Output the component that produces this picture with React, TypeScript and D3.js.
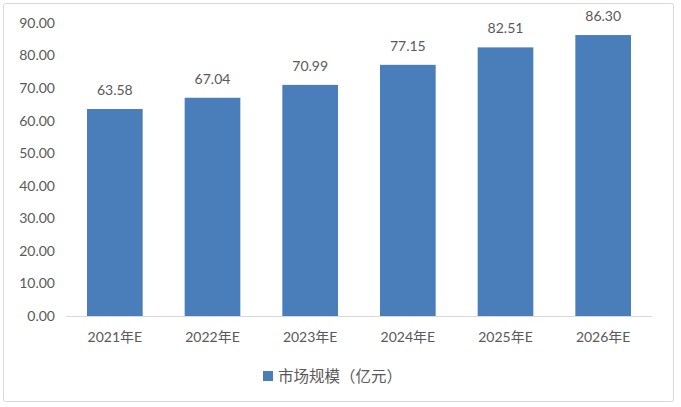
import React from 'react'
import * as d3 from 'd3'

const categories = ['2021年E', '2022年E', '2023年E', '2024年E', '2025年E', '2026年E']
const values = [63.58, 67.04, 70.99, 77.15, 82.51, 86.30]
const yTicks = [0, 10, 20, 30, 40, 50, 60, 70, 80, 90]
const seriesName = '市场规模（亿元）'

const W = 681
const H = 407
const FONT = "Lato, 'Noto Sans CJK SC', sans-serif"
const TEXT = '#595959'
const BAR = '#4a7ebb'

export default function App() {
    const x = d3.scaleBand<string>()
        .domain(categories)
        .range([66, 652])
        .paddingInner(0.43)
        .paddingOuter(0.215)

    const y = d3.scaleLinear()
        .domain([0, 90])
        .range([316, 23])

    return (
        <svg width={W} height={H} viewBox={`0 0 ${W} ${H}`}
            style={{ position: 'absolute', left: 0, top: 0, background: '#fff' }}>
            <rect x={3.5} y={3.5} width={670} height={398} rx={2} fill="#fff" stroke="#d9d9d9" strokeWidth={1} />
            {yTicks.map(t => (
                <text key={t} x={55} y={y(t)} dy="0.35em" textAnchor="end"
                    fontFamily={FONT} fontSize={14} fill={TEXT}>{t.toFixed(2)}</text>
            ))}
            {categories.map((c, i) => (
                <g key={c}>
                    <rect x={x(c)} y={y(values[i])} width={x.bandwidth()} height={y(0) - y(values[i])} fill={BAR} />
                    <text x={(x(c) ?? 0) + x.bandwidth() / 2} y={y(values[i]) - 14} textAnchor="middle"
                        fontFamily={FONT} fontSize={14} fill={TEXT}>{values[i].toFixed(2)}</text>
                    <text x={(x(c) ?? 0) + x.bandwidth() / 2} y={342} textAnchor="middle"
                        fontFamily={FONT} fontSize={14} fill={TEXT}>{c}</text>
                </g>
            ))}
            <line x1={66} x2={652} y1={y(0) + 0.5} y2={y(0) + 0.5} stroke="#d9d9d9" strokeWidth={1} />
            <rect x={263} y={371} width={10} height={10} fill={BAR} />
            <text x={278} y={382} fontFamily={FONT} fontSize={15.5} fill={TEXT}>{seriesName}</text>
        </svg>
    )
}
